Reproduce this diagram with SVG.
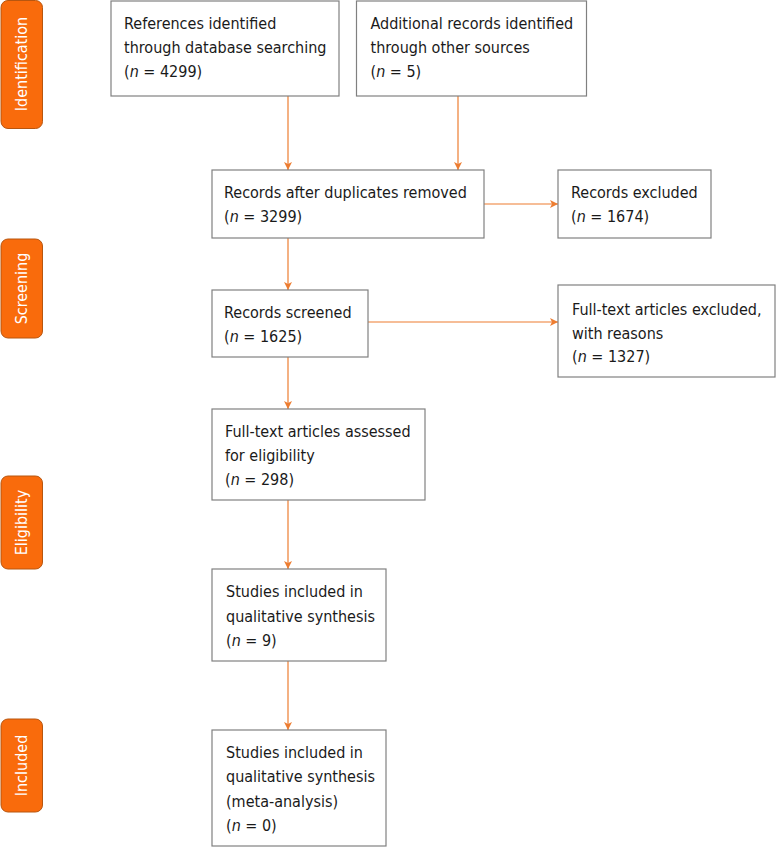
<svg xmlns="http://www.w3.org/2000/svg" width="776" height="847" viewBox="0 0 776 847">
<style>
  .box { fill: #ffffff; stroke: #808080; stroke-width: 1.2; }
  .lbl { fill: #F96B0C; stroke: #B8560F; stroke-width: 1; }
  .t { font-family: 'DejaVu Sans Condensed', 'DejaVu Sans', Verdana, sans-serif; font-stretch: condensed; font-size: 16px; fill: #1a1a1a; }
  .lt { font-family: 'DejaVu Sans Condensed', 'DejaVu Sans', Verdana, sans-serif; font-stretch: condensed; font-size: 16px; fill: #ffffff; text-anchor: middle; }
  .i { font-style: italic; }
  .c { stroke: #ED7D31; stroke-width: 1.2; fill: none; marker-end: url(#ah); }
</style>
<defs>
  <marker id="ah" viewBox="0 0 10 10" refX="10" refY="5" markerWidth="9" markerHeight="8" markerUnits="userSpaceOnUse" orient="auto">
    <path d="M0,0 L10,5 L0,10 L2.5,5 Z" fill="#ED7D31"/>
  </marker>
</defs>
<rect width="776" height="847" fill="#ffffff"/>

<g id="side-identification">
  <rect class="lbl" x="1" y="0.5" width="41.5" height="128" rx="7"/>
  <text class="lt" transform="translate(27,64) rotate(-90)">Identification</text>
</g>
<g id="side-screening">
  <rect class="lbl" x="1" y="239" width="41.5" height="99" rx="7"/>
  <text class="lt" transform="translate(27,288.5) rotate(-90)">Screening</text>
</g>
<g id="side-eligibility">
  <rect class="lbl" x="1" y="476" width="41.5" height="93" rx="7"/>
  <text class="lt" transform="translate(27,522.5) rotate(-90)">Eligibility</text>
</g>
<g id="side-included">
  <rect class="lbl" x="1" y="719" width="41.5" height="93" rx="7"/>
  <text class="lt" transform="translate(27,765.5) rotate(-90)">Included</text>
</g>

<g id="connectors">
  <line class="c" x1="288" y1="96" x2="288" y2="170"/>
  <line class="c" x1="458" y1="96" x2="458" y2="170"/>
  <line class="c" x1="484" y1="204" x2="558" y2="204"/>
  <line class="c" x1="288" y1="238" x2="288" y2="290"/>
  <line class="c" x1="368" y1="322" x2="558" y2="322"/>
  <line class="c" x1="288" y1="357" x2="288" y2="409"/>
  <line class="c" x1="288" y1="500" x2="288" y2="569"/>
  <line class="c" x1="288" y1="661" x2="288" y2="730"/>
</g>

<g id="n-references">
  <rect class="box" x="111" y="1" width="228" height="95"/>
  <text class="t" x="124" y="28.5">References identified</text>
  <text class="t" x="124" y="52.5">through database searching</text>
  <text class="t" x="124" y="76.5">(<tspan class="i">n</tspan> = 4299)</text>
</g>
<g id="n-additional">
  <rect class="box" x="356.5" y="1" width="230" height="95"/>
  <text class="t" x="370.5" y="28.5">Additional records identified</text>
  <text class="t" x="370.5" y="52.5">through other sources</text>
  <text class="t" x="370.5" y="76.5">(<tspan class="i">n</tspan> = 5)</text>
</g>
<g id="n-duplicates">
  <rect class="box" x="212" y="170" width="272" height="68"/>
  <text class="t" x="224" y="198">Records after duplicates removed</text>
  <text class="t" x="224" y="222">(<tspan class="i">n</tspan> = 3299)</text>
</g>
<g id="n-excluded">
  <rect class="box" x="558" y="170" width="153" height="68"/>
  <text class="t" x="571" y="198">Records excluded</text>
  <text class="t" x="571" y="222">(<tspan class="i">n</tspan> = 1674)</text>
</g>
<g id="n-screened">
  <rect class="box" x="212" y="290" width="156" height="67"/>
  <text class="t" x="224" y="318">Records screened</text>
  <text class="t" x="224" y="342">(<tspan class="i">n</tspan> = 1625)</text>
</g>
<g id="n-fulltext-excluded">
  <rect class="box" x="558" y="285" width="217" height="92"/>
  <text class="t" x="572" y="315">Full-text articles excluded,</text>
  <text class="t" x="572" y="338.5">with reasons</text>
  <text class="t" x="572" y="362">(<tspan class="i">n</tspan> = 1327)</text>
</g>
<g id="n-assessed">
  <rect class="box" x="212" y="409" width="213" height="91"/>
  <text class="t" x="225" y="437">Full-text articles assessed</text>
  <text class="t" x="225" y="461">for eligibility</text>
  <text class="t" x="225" y="485">(<tspan class="i">n</tspan> = 298)</text>
</g>
<g id="n-qualitative">
  <rect class="box" x="212" y="569" width="174" height="92"/>
  <text class="t" x="226" y="597">Studies included in</text>
  <text class="t" x="226" y="621.5">qualitative synthesis</text>
  <text class="t" x="226" y="646">(<tspan class="i">n</tspan> = 9)</text>
</g>
<g id="n-meta">
  <rect class="box" x="212" y="730" width="174" height="116"/>
  <text class="t" x="226" y="758">Studies included in</text>
  <text class="t" x="226" y="782">qualitative synthesis</text>
  <text class="t" x="226" y="806.5">(meta-analysis)</text>
  <text class="t" x="226" y="830.5">(<tspan class="i">n</tspan> = 0)</text>
</g>
</svg>
